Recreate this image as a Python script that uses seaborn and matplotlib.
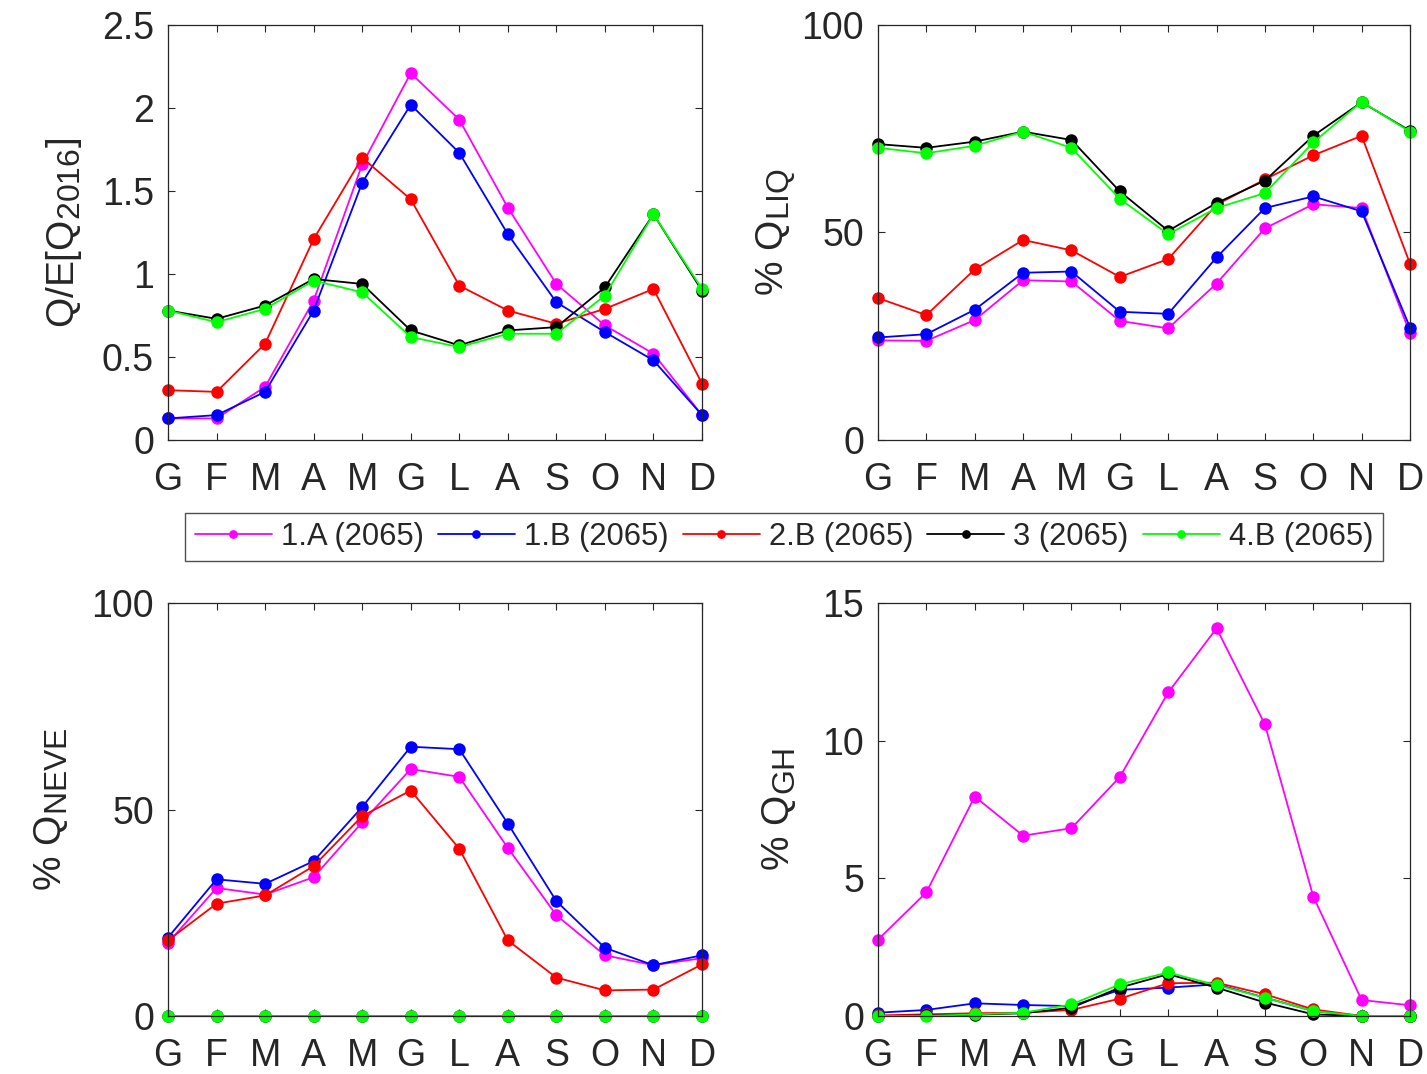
import numpy as np
import pandas as pd
import seaborn as sns
import matplotlib.pyplot as plt
import matplotlib._mathtext as mathtext

sns.set_style("ticks")
plt.rcParams["font.family"] = ["Liberation Sans", "DejaVu Sans"]
plt.rcParams["mathtext.fontset"] = "custom"
plt.rcParams["mathtext.rm"] = "Liberation Sans"
plt.rcParams["text.color"] = "#262626"
plt.rcParams["axes.labelcolor"] = "#262626"
# matlab subscripts are bigger than the matplotlib default
mathtext.SHRINK_FACTOR = 0.82

"""Data"""

months = ["G", "F", "M", "A", "M", "G", "L", "A", "S", "O", "N", "D"]
scenarios = ["1.A (2065)", "1.B (2065)", "2.B (2065)", "3 (2065)", "4.B (2065)"]
colors = ["#ff00ff", "#0000ff", "#ff0000", "#000000", "#00ff00"]

# Q / E[Q_2016]
ratio_1a = [0.13, 0.13, 0.32, 0.84, 1.66, 2.21, 1.93, 1.40, 0.94, 0.69, 0.52, 0.15]
ratio_1b = [0.13, 0.15, 0.29, 0.78, 1.55, 2.02, 1.73, 1.24, 0.83, 0.65, 0.48, 0.15]
ratio_2b = [0.30, 0.29, 0.58, 1.21, 1.70, 1.45, 0.93, 0.78, 0.70, 0.79, 0.91, 0.34]
ratio_3 = [0.78, 0.73, 0.81, 0.97, 0.94, 0.66, 0.57, 0.66, 0.68, 0.92, 1.36, 0.90]
ratio_4b = [0.78, 0.71, 0.79, 0.96, 0.89, 0.62, 0.56, 0.64, 0.64, 0.87, 1.36, 0.91]

# % Q liquid
liq_1a = [24.0, 23.9, 28.9, 38.5, 38.2, 28.7, 26.9, 37.7, 51.0, 56.8, 55.9, 25.7]
liq_1b = [24.7, 25.5, 31.4, 40.3, 40.6, 30.9, 30.4, 44.0, 55.9, 58.7, 55.1, 27.1]
liq_2b = [34.2, 30.1, 41.1, 48.2, 45.7, 39.3, 43.6, 56.7, 62.8, 68.6, 73.3, 42.5]
liq_3 = [71.3, 70.4, 71.9, 74.3, 72.3, 59.9, 50.4, 57.1, 62.5, 73.3, 81.4, 74.5]
liq_4b = [70.4, 69.1, 70.9, 74.3, 70.4, 58.1, 49.6, 55.9, 59.5, 71.7, 81.5, 74.3]

# % Q snow
neve_1a = [17.7, 31.0, 29.4, 33.6, 46.9, 59.8, 57.9, 40.7, 24.4, 14.7, 12.3, 14.0]
neve_1b = [19.0, 33.1, 32.0, 37.5, 50.6, 65.2, 64.6, 46.6, 27.8, 16.5, 12.3, 14.7]
neve_2b = [18.3, 27.2, 29.2, 36.3, 48.4, 54.6, 40.5, 18.3, 9.3, 6.2, 6.4, 12.5]
neve_3 = [0, 0, 0, 0, 0, 0, 0, 0, 0, 0, 0, 0]
neve_4b = [0, 0, 0, 0, 0, 0, 0, 0, 0, 0, 0, 0]

# % Q glacier
gh_1a = [2.77, 4.49, 7.97, 6.55, 6.82, 8.68, 11.75, 14.08, 10.59, 4.34, 0.58, 0.39]
gh_1b = [0.12, 0.22, 0.46, 0.40, 0.36, 0.95, 1.03, 1.15, 0.67, 0.18, 0.0, 0.0]
gh_2b = [0.02, 0.06, 0.10, 0.12, 0.22, 0.63, 1.19, 1.21, 0.79, 0.24, 0.0, 0.0]
gh_3 = [0.0, 0.02, 0.05, 0.10, 0.30, 1.03, 1.52, 1.03, 0.49, 0.06, 0.0, 0.0]
gh_4b = [0.0, 0.0, 0.06, 0.12, 0.42, 1.15, 1.58, 1.12, 0.67, 0.18, 0.0, 0.0]

panels = [
    ([ratio_1a, ratio_1b, ratio_2b, ratio_3, ratio_4b], "Q/E[Q$_{\\mathregular{2016}}$]",
     [0, 0.5, 1, 1.5, 2, 2.5], ["0", "0.5", "1", "1.5", "2", "2.5"]),
    ([liq_1a, liq_1b, liq_2b, liq_3, liq_4b], "% Q$_{\\mathregular{LIQ}}$",
     [0, 50, 100], ["0", "50", "100"]),
    ([neve_1a, neve_1b, neve_2b, neve_3, neve_4b], "% Q$_{\\mathregular{NEVE}}$",
     [0, 50, 100], ["0", "50", "100"]),
    ([gh_1a, gh_1b, gh_2b, gh_3, gh_4b], "% Q$_{\\mathregular{GH}}$",
     [0, 5, 10, 15], ["0", "5", "10", "15"]),
]

# axes boxes in pixels: left, top, right, bottom
W, H = 1427, 1074
boxes = [(168, 25, 702, 440), (878, 25, 1410, 440),
         (168, 603, 702, 1016), (878, 603, 1410, 1016)]
label_x = [-0.158, -0.150, -0.184, -0.150]

fig = plt.figure(figsize=(W / 100, H / 100), dpi=100)
x = np.arange(1, 13)
dark = "#262626"

for (series, ylab, yt, ytl), (l, t, r, b), lx in zip(panels, boxes, label_x):
    ax = fig.add_axes([l / W, 1 - b / H, (r - l) / W, (b - t) / H])
    for vals, name, c in zip(series, scenarios, colors):
        df = pd.DataFrame({"month": x, "value": vals})
        sns.lineplot(data=df, x="month", y="value", color=c, marker="o",
                     markersize=9, markeredgewidth=0, linewidth=1.3,
                     clip_on=False, label=name, ax=ax)
    if ax.get_legend() is not None:
        ax.get_legend().remove()
    ax.set_xlim(1, 12)
    ax.set_ylim(yt[0], yt[-1])
    ax.set_xticks(x)
    ax.set_xticklabels(months)
    ax.set_yticks(yt)
    ax.set_yticklabels(ytl)
    ax.set_xlabel("")
    ax.set_ylabel(ylab, fontsize=28)
    ax.yaxis.set_label_coords(lx, 0.5)
    ax.tick_params(direction="in", top=True, right=True, length=5, width=0.8,
                   labelsize=27, colors=dark, labelcolor=dark)
    ax.tick_params(axis="x", pad=16)
    ax.tick_params(axis="y", pad=10)
    for s in ax.spines.values():
        s.set_color(dark)
        s.set_linewidth(0.9)
    if l == 168 and t == 25:
        handles, labels = ax.get_legend_handles_labels()

leg = fig.legend(handles, labels, loc="center", bbox_to_anchor=(784 / W, 1 - 537 / H),
                 ncol=5, fontsize=22.2, frameon=True, fancybox=False,
                 edgecolor=dark, handlelength=2.5, handletextpad=0.3,
                 columnspacing=0.45, borderpad=0.3, markerscale=0.7)
leg.get_frame().set_linewidth(1.0)

fig.savefig("out.png", dpi=100)
